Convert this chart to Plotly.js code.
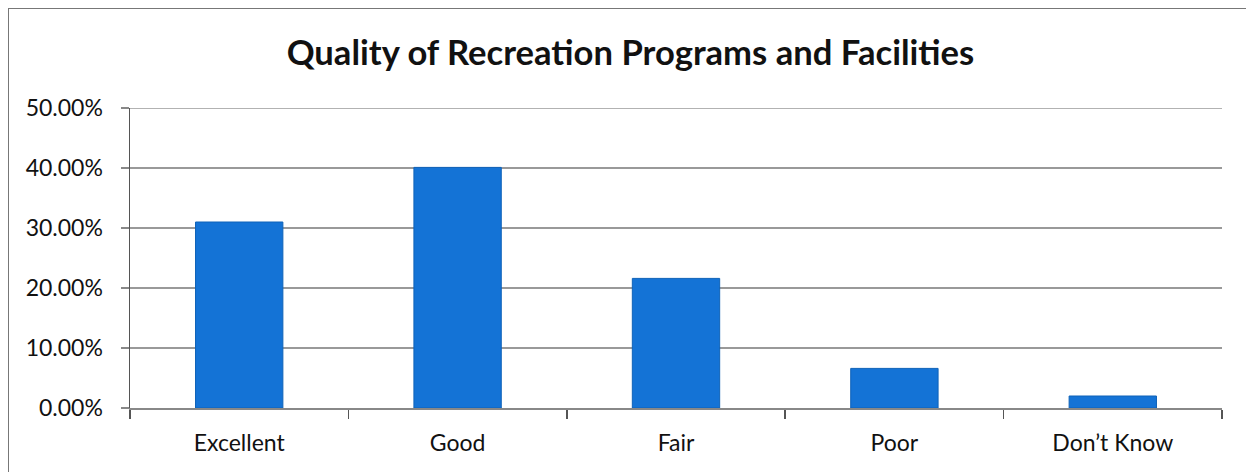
<!DOCTYPE html>
<html>
<head>
<meta charset="utf-8">
<script src="https://cdn.plot.ly/plotly-3.0.1.min.js"></script>
<style>
  html, body { margin: 0; padding: 0; background: #fff; }
  #frame { position: absolute; left: 8px; top: 8px; width: 1250px; height: 480px; border: 1.5px solid #777; box-sizing: border-box; }
  #chart { position: absolute; left: 0; top: 0; width: 1246px; height: 472px; }
</style>
</head>
<body>
<div id="frame"></div>
<div id="chart"></div>
<script>
const categories = ["Excellent", "Good", "Fair", "Poor", "Don\u2019t Know"];
const percentages = [0.310, 0.401, 0.216, 0.066, 0.020];
const titleText = "Quality of Recreation Programs and Facilities";
const yMax = 0.5;

const trace = {
  type: "bar",
  x: categories,
  y: percentages,
  marker: { color: "#1473d6", line: { color: "#0f62b8", width: 1 } },
  hoverinfo: "x+y"
};

const layout = {
  width: 1246,
  height: 472,
  margin: { l: 130, r: 24, t: 108, b: 64 },
  paper_bgcolor: "rgba(0,0,0,0)",
  plot_bgcolor: "rgba(0,0,0,0)",
  bargap: 0.6,
  showlegend: false,
  title: {
    text: titleText,
    font: { family: "Lato, 'Open Sans', sans-serif", size: 34.6, color: "#111", weight: "bold" },
    x: 0.506, xanchor: "center",
    y: 0.887, yanchor: "middle"
  },
  xaxis: {
    type: "category",
    showline: true, linecolor: "#888", linewidth: 1.5,
    ticks: "outside", tickson: "boundaries", ticklen: 9, tickcolor: "#555", tickwidth: 1.5,
    showgrid: false,
    ticklabelstandoff: 14,
    tickfont: { family: "Lato, 'Open Sans', sans-serif", size: 23, color: "#111" }
  },
  yaxis: {
    range: [0, yMax],
    dtick: 0.1,
    tickformat: ".2%",
    showline: true, linecolor: "#555", linewidth: 1.5,
    ticks: "outside", ticklen: 8, tickcolor: "#888", tickwidth: 1.5,
    showgrid: true, gridcolor: "#999", gridwidth: 1.5,
    zeroline: false,
    ticklabelstandoff: 13,
    tickfont: { family: "Lato, 'Open Sans', sans-serif", size: 23, color: "#111" }
  },
  shapes: [{
    type: "line", xref: "paper", yref: "y",
    x0: 0, x1: 1, y0: yMax, y1: yMax,
    line: { color: "#999", width: 1.5 }, layer: "below"
  }]
};

Plotly.newPlot("chart", [trace], layout, { displayModeBar: false, staticPlot: true });
</script>
</body>
</html>
